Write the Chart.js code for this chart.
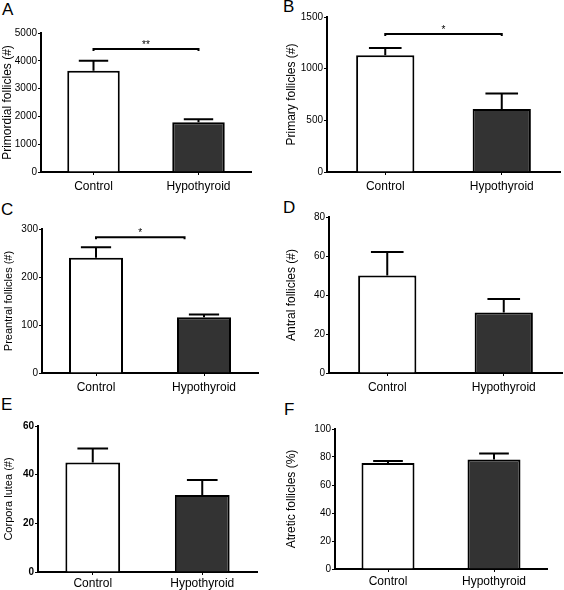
<!DOCTYPE html>
<html>
<head>
<meta charset="utf-8">
<script src="https://cdn.jsdelivr.net/npm/chart.js@4.4.1/dist/chart.umd.min.js"></script>
<style>
  body { margin: 0; background: #fff; }
  #wrap { position: relative; width: 564px; height: 590px; overflow: hidden; }
  canvas { position: absolute; }
  .letter { position: absolute; font: 17px "Liberation Sans", Arial, sans-serif; line-height: 17px; color: #000; }
</style>
</head>
<body>
<div id="wrap">
  <div class="letter" style="left:2px;top:1px">A</div>
  <div class="letter" style="left:283px;top:-2px">B</div>
  <div class="letter" style="left:1px;top:201px">C</div>
  <div class="letter" style="left:283px;top:199px">D</div>
  <div class="letter" style="left:1px;top:396px">E</div>
  <div class="letter" style="left:284px;top:401px">F</div>
  <canvas id="chartA" width="282" height="198" style="left:0;top:0"></canvas>
  <canvas id="chartB" width="282" height="198" style="left:282px;top:0"></canvas>
  <canvas id="chartC" width="282" height="198" style="left:0;top:198px"></canvas>
  <canvas id="chartD" width="282" height="198" style="left:282px;top:198px"></canvas>
  <canvas id="chartE" width="282" height="194" style="left:0;top:396px"></canvas>
  <canvas id="chartF" width="282" height="194" style="left:282px;top:396px"></canvas>
</div>
<script>
var categories = ['Control', 'Hypothyroid'];

var primordialMean = [3640, 1790];
var primordialErr = [360, 110];
var primaryMean = [1130, 610];
var primaryErr = [70, 150];
var preantralMean = [240, 116];
var preantralErr = [22, 6];
var antralMean = [50, 31];
var antralErr = [12, 7];
var corporaMean = [45, 31.6];
var corporaErr = [5.8, 6.2];
var atreticMean = [75.8, 78.2];
var atreticErr = [1.4, 4.3];

// significance brackets: [from category, to category, y value, label]
var primordialSig = [0, 1, 4420, '**'];
var primarySig = [0, 1, 1335, '*'];
var preantralSig = [0, 0.82, 283, '*'];

var fontFamily = '"Liberation Sans", Arial, sans-serif';

// upper error bars with a cap
var errorBarPlugin = {
  id: 'errorBars',
  afterDatasetsDraw: function(chart) {
    var ctx = chart.ctx;
    var yScale = chart.scales.y;
    var errs = chart.options.plugins.errorBars.errors;
    var bars = chart.getDatasetMeta(0).data;
    ctx.save();
    ctx.strokeStyle = '#000';
    ctx.lineWidth = 2;
    for (var i = 0; i < bars.length; i++) {
      var bar = bars[i];
      var mean = chart.data.datasets[0].data[i];
      var top = yScale.getPixelForValue(mean + errs[i]);
      var half = bar.width * 0.28;
      ctx.beginPath();
      ctx.moveTo(bar.x, bar.y);
      ctx.lineTo(bar.x, top);
      ctx.moveTo(bar.x - half, top);
      ctx.lineTo(bar.x + half, top);
      ctx.stroke();
    }
    ctx.restore();
  }
};

var sigPlugin = {
  id: 'sigBracket',
  afterDatasetsDraw: function(chart) {
    var sig = chart.options.plugins.sigBracket.bracket;
    if (!sig) return;
    var ctx = chart.ctx;
    var x1 = chart.scales.x.getPixelForValue(sig[0]);
    var x2 = chart.scales.x.getPixelForValue(sig[1]);
    var y = chart.scales.y.getPixelForValue(sig[2]);
    ctx.save();
    ctx.strokeStyle = '#000';
    ctx.lineWidth = 2;
    ctx.beginPath();
    ctx.moveTo(x1, y + 2);
    ctx.lineTo(x1, y);
    ctx.lineTo(x2, y);
    ctx.lineTo(x2, y + 2);
    ctx.stroke();
    ctx.fillStyle = '#000';
    ctx.font = '10px ' + fontFamily;
    ctx.textAlign = 'center';
    ctx.textBaseline = 'bottom';
    ctx.fillText(sig[3], (x1 + x2) / 2, y + 1);
    ctx.restore();
  }
};

var drawPanel = function(id, cfg) {
  var canvas = document.getElementById(id);
  var w = canvas.width, h = canvas.height;
  new Chart(canvas.getContext('2d'), {
    type: 'bar',
    data: {
      labels: categories,
      datasets: [{
        data: cfg.mean,
        backgroundColor: ['#ffffff', '#333333'],
        borderColor: '#000',
        borderWidth: 2,
        categoryPercentage: 1,
        barPercentage: cfg.barPct || 0.5
      }]
    },
    options: {
      responsive: false,
      animation: false,
      layout: { padding: { left: 0, top: cfg.area[1], right: w - cfg.area[2], bottom: 0 } },
      plugins: {
        legend: { display: false },
        tooltip: { enabled: false },
        errorBars: { errors: cfg.err },
        sigBracket: { bracket: cfg.sig }
      },
      scales: {
        x: {
          afterFit: function(scale) { scale.height = h - cfg.area[3]; },
          grid: { display: true, drawOnChartArea: false, offset: false, color: '#000', lineWidth: 1, tickLength: 3 },
          border: { display: true, color: '#000', width: 2 },
          ticks: { color: '#000', padding: cfg.labelPad === undefined ? 4 : cfg.labelPad,
                   font: { family: fontFamily, size: 12 } }
        },
        y: {
          min: 0,
          max: cfg.max,
          afterFit: function(scale) { scale.width = cfg.area[0]; },
          ticks: { stepSize: cfg.step, color: '#000', padding: 1,
                   callback: function(v) { return String(v); },
                   font: { family: fontFamily, size: 10, weight: cfg.boldTicks ? 'bold' : 'normal' } },
          grid: { display: true, drawOnChartArea: false, color: '#000', lineWidth: 1, tickLength: 3 },
          border: { display: true, color: '#000', width: 2 },
          title: { display: true, text: cfg.title, color: '#000', padding: { top: cfg.titlePad || 0, bottom: 0 },
                   font: { family: fontFamily, size: cfg.titleSize || 12 } }
        }
      }
    },
    plugins: [errorBarPlugin, sigPlugin]
  });
};

// area: [left, top, right, bottom] of the plot box inside each canvas
drawPanel('chartA', { mean: primordialMean, err: primordialErr, sig: primordialSig, max: 5000, step: 1000,
  title: 'Primordial follicles (#)', area: [41, 33, 251, 172] });
drawPanel('chartB', { mean: primaryMean, err: primaryErr, sig: primarySig, max: 1500, step: 500,
  title: 'Primary follicles (#)', titlePad: 2, area: [45, 17, 278, 172] });
drawPanel('chartC', { mean: preantralMean, err: preantralErr, sig: preantralSig, max: 300, step: 100,
  title: 'Preantral follicles (#)', titleSize: 11, titlePad: 2, area: [42, 31, 258, 175] });
drawPanel('chartD', { mean: antralMean, err: antralErr, max: 80, step: 20,
  title: 'Antral follicles (#)', titlePad: 2, area: [47, 19, 280, 175] });
drawPanel('chartE', { mean: corporaMean, err: corporaErr, max: 60, step: 20, boldTicks: true,
  title: 'Corpora lutea (#)', titleSize: 11, titlePad: 2, labelPad: 1, area: [38, 30, 257, 176] });
drawPanel('chartF', { mean: atreticMean, err: atreticErr, max: 100, step: 20,
  title: 'Atretic follicles (%)', titlePad: 2, labelPad: 2, area: [53, 33, 265, 173] });
</script>
</body>
</html>
